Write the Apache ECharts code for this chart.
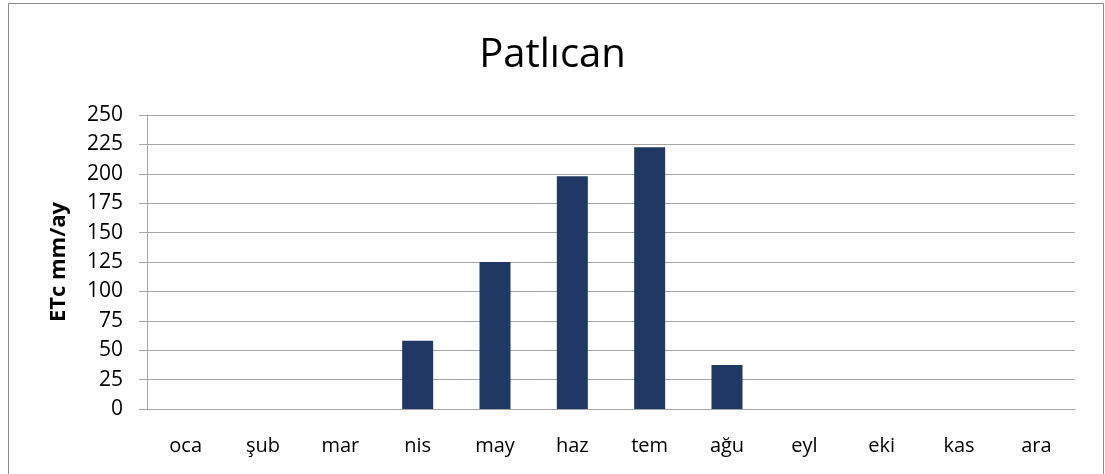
<!DOCTYPE html>
<html>
<head>
<meta charset="utf-8">
<script src="https://cdn.jsdelivr.net/npm/echarts@6/dist/echarts.min.js"></script>
<style>
	html,body{margin:0;padding:0;background:#fff;}
	#chart{width:1105px;height:474px;}
</style>
</head>
<body>
<div id="chart"></div>
<script>
	// aylar (kategori)
	var months = ['oca','şub','mar','nis','may','haz','tem','ağu','eyl','eki','kas','ara'];
	// ETc mm/ay değerleri
	var etcValues = [0,0,0,58,125,198,222.5,37.5,0,0,0,0];
	var yTicks = {min:0, max:250, interval:25};

	var font = '"Open Sans", "DejaVu Sans", sans-serif';
	var chart = echarts.init(document.getElementById('chart'));
	var option = {
		animation:false,
		backgroundColor:'#fff',
		graphic:[{
			type:'rect',
			shape:{x:8.5,y:3.5,width:1095,height:480},
			style:{fill:'none',stroke:'#8c8c8c',lineWidth:1},
			silent:true
		}],
		title:{
			text:'Patlıcan',
			left:'center',
			top:31,
			textStyle:{fontFamily:font,fontSize:40,fontWeight:'normal',color:'#000'}
		},
		grid:{left:147,right:30,top:115,bottom:65},
		xAxis:{
			type:'category',
			data:months,
			axisLine:{lineStyle:{color:'#a6a6a6',width:1}},
			axisTick:{show:false},
			axisLabel:{fontFamily:font,fontSize:20,color:'#000',margin:27}
		},
		yAxis:{
			type:'value',
			min:yTicks.min,
			max:yTicks.max,
			interval:yTicks.interval,
			name:'ETc mm/ay',
			nameLocation:'middle',
			nameGap:77,
			nameRotate:90,
			nameTextStyle:{fontFamily:font,fontSize:22,fontWeight:'bold',color:'#000'},
			axisLine:{show:true,lineStyle:{color:'#a6a6a6',width:1}},
			axisTick:{show:true,length:8,lineStyle:{color:'#a6a6a6'}},
			axisLabel:{fontFamily:font,fontSize:21,color:'#000',margin:24},
			splitLine:{lineStyle:{color:'#a6a6a6',width:1}}
		},
		series:[{
			type:'bar',
			data:etcValues,
			barWidth:31,
			itemStyle:{color:'#1f3864'}
		}]
	};
	chart.setOption(option);
</script>
</body>
</html>
